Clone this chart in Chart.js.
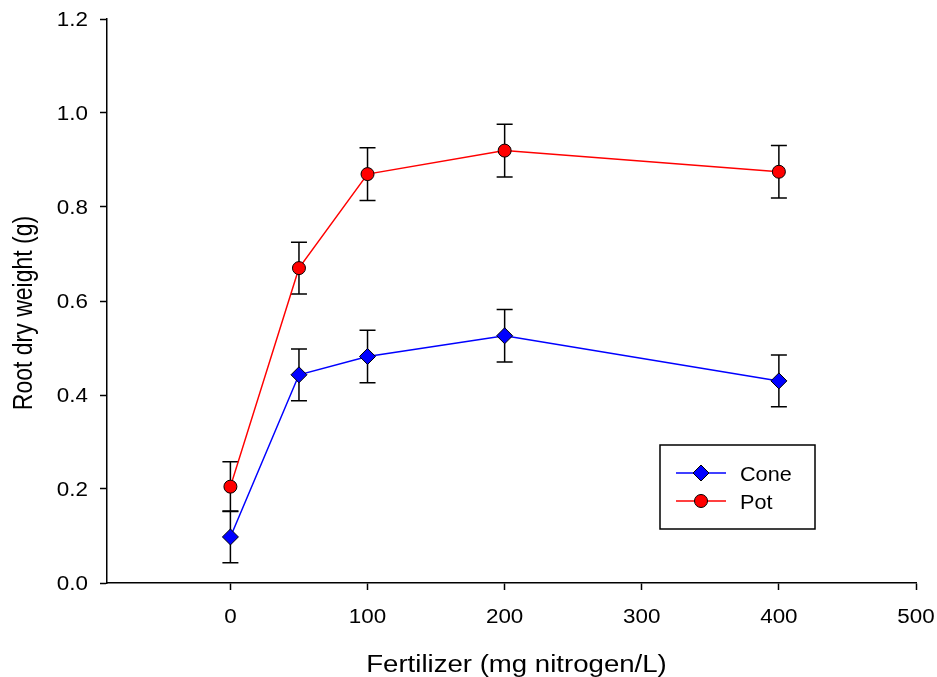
<!DOCTYPE html>
<html>
<head>
<meta charset="utf-8">
<script src="https://cdn.jsdelivr.net/npm/chart.js@4.4.1/dist/chart.umd.min.js"></script>
<style>
  html, body { margin: 0; padding: 0; background: #fff; }
  canvas { display: block; }
</style>
</head>
<body>
<canvas id="chart" width="937" height="677"></canvas>
<script>
const nitrogen = [0, 50, 100, 200, 400]
const coneWeight = [0.098, 0.443, 0.482, 0.526, 0.430]
const coneErr = [0.055, 0.055, 0.056, 0.056, 0.055]
const potWeight = [0.205, 0.670, 0.870, 0.920, 0.875]
const potErr = [0.053, 0.055, 0.056, 0.056, 0.056]
const xTicks = [0, 100, 200, 300, 400, 500]
const yTicks = [0, 0.2, 0.4, 0.6, 0.8, 1.0, 1.2]
const xTitle = 'Fertilizer (mg nitrogen/L)'
const yTitle = 'Root dry weight (g)'

const FONT = '"Liberation Sans", Arial, sans-serif'

const toPoints = (ys) => nitrogen.map((x, i) => ({ x, y: ys[i] }))

// the reference text is a bit wider than plain Arial, so stretch it horizontally
function wideText(ctx, text, x, y, sx, rot = 0) {
  ctx.save()
  ctx.translate(x, y)
  ctx.scale(sx, 1)
  if (rot) ctx.rotate(rot)
  ctx.fillText(text, 0, 0)
  ctx.restore()
}

// vertical error bars, drawn under the markers
const errorBars = {
  id: 'errorBars',
  beforeDatasetsDraw(chart) {
    const { ctx, scales: { x, y } } = chart
    ctx.save()
    ctx.strokeStyle = '#000'
    ctx.lineWidth = 1.5
    chart.data.datasets.forEach(ds => {
      ds.data.forEach((p, i) => {
        const px = x.getPixelForValue(p.x)
        const top = y.getPixelForValue(p.y + ds.errors[i])
        const bot = y.getPixelForValue(p.y - ds.errors[i])
        ctx.beginPath()
        ctx.moveTo(px, top); ctx.lineTo(px, bot)
        ctx.moveTo(px - 8, top); ctx.lineTo(px + 8, top)
        ctx.moveTo(px - 8, bot); ctx.lineTo(px + 8, bot)
        ctx.stroke()
      })
    })
    ctx.restore()
  }
}

// tick labels and axis titles
const axisText = {
  id: 'axisText',
  afterDraw(chart) {
    const { ctx, chartArea: area, scales: { x, y } } = chart
    ctx.save()
    ctx.fillStyle = '#000'
    ctx.textBaseline = 'alphabetic'
    ctx.font = '20px ' + FONT
    ctx.textAlign = 'center'
    xTicks.forEach(v => wideText(ctx, String(v), x.getPixelForValue(v), area.bottom + 40, 1.12))
    ctx.textAlign = 'right'
    yTicks.forEach(v => wideText(ctx, v.toFixed(1), area.left - 19, y.getPixelForValue(v) + 7, 1.12))
    ctx.font = '23px ' + FONT
    ctx.textAlign = 'center'
    wideText(ctx, xTitle, (area.left + area.right) / 2 + 5, area.bottom + 89, 1.2)
    wideText(ctx, yTitle, 32, (area.top + area.bottom) / 2 + 12, 1.2, -Math.PI / 2)
    ctx.restore()
  }
}

// boxed legend inside the plot, lower right
const boxLegend = {
  id: 'boxLegend',
  afterDraw(chart) {
    const { ctx } = chart
    const bx = 660, by = 445, bw = 155, bh = 84
    ctx.save()
    ctx.strokeStyle = '#000'
    ctx.lineWidth = 1.5
    ctx.strokeRect(bx, by, bw, bh)
    chart.data.datasets.forEach((ds, i) => {
      const ly = 473 + i * 28
      ctx.strokeStyle = ds.borderColor
      ctx.lineWidth = 1.5
      ctx.beginPath()
      ctx.moveTo(676, ly); ctx.lineTo(726, ly)
      ctx.stroke()
      ctx.fillStyle = ds.pointBackgroundColor
      ctx.strokeStyle = '#000'
      ctx.lineWidth = 1
      Chart.helpers.drawPoint(ctx, {
        pointStyle: ds.pointStyle, radius: ds.pointRadius, borderWidth: 1
      }, 701, ly)
      ctx.fillStyle = '#000'
      ctx.font = '21px ' + FONT
      ctx.textAlign = 'left'
      ctx.textBaseline = 'alphabetic'
      wideText(ctx, ds.label, 740, ly + 8, 1.03)
    })
    ctx.restore()
  }
}

const axisGrid = { drawOnChartArea: false, drawTicks: true, tickLength: 7, tickWidth: 1.5, color: '#000' }

new Chart(document.getElementById('chart'), {
  type: 'line',
  data: {
    datasets: [
      {
        label: 'Cone',
        data: toPoints(coneWeight),
        errors: coneErr,
        borderColor: '#0000ff',
        borderWidth: 1.5,
        pointStyle: 'rectRot',
        pointRadius: 8,
        pointHoverRadius: 8,
        pointBackgroundColor: '#0000ff',
        pointBorderColor: '#000',
        pointBorderWidth: 1,
        tension: 0,
      },
      {
        label: 'Pot',
        data: toPoints(potWeight),
        errors: potErr,
        borderColor: '#ff0000',
        borderWidth: 1.5,
        pointStyle: 'circle',
        pointRadius: 6.5,
        pointHoverRadius: 6.5,
        pointBackgroundColor: '#ff0000',
        pointBorderColor: '#000',
        pointBorderWidth: 1,
        tension: 0,
      }
    ]
  },
  options: {
    responsive: false,
    animation: false,
    layout: { padding: { top: 19, right: 21, left: 0, bottom: 0 } },
    plugins: {
      legend: { display: false },
      tooltip: { enabled: false },
    },
    scales: {
      x: {
        type: 'linear',
        min: -90,
        max: 500,
        afterBuildTicks(scale) { scale.ticks = xTicks.map(v => ({ value: v })) },
        afterFit(scale) {
          scale.height = 94
          scale.paddingLeft = 0
          scale.paddingRight = 0
        },
        grid: axisGrid,
        border: { display: true, color: '#000', width: 1.5 },
        ticks: { display: false },
        title: { display: false },
      },
      y: {
        min: 0,
        max: 1.2,
        afterBuildTicks(scale) { scale.ticks = yTicks.map(v => ({ value: v })) },
        afterFit(scale) {
          scale.width = 107
          scale.paddingTop = 0
          scale.paddingBottom = 0
        },
        grid: axisGrid,
        border: { display: true, color: '#000', width: 1.5 },
        ticks: { display: false },
        title: { display: false },
      }
    }
  },
  plugins: [errorBars, axisText, boxLegend]
})
</script>
</body>
</html>
